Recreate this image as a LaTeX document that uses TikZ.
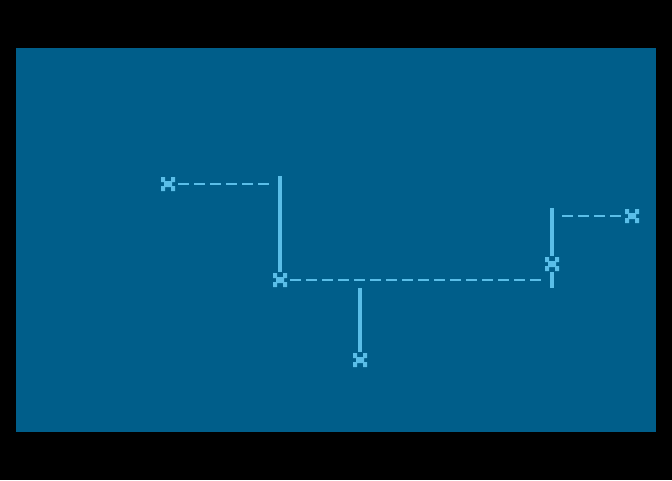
\documentclass[tikz,border=0pt]{standalone}
\usetikzlibrary{positioning}
\definecolor{panelblue}{RGB}{0,94,138}
\definecolor{lightcyan}{RGB}{90,190,232}

\begin{document}
\begin{tikzpicture}[x=1pt, y=-1pt]
\tikzset{
    xmark/.style= {rectangle, minimum size=16pt, inner sep=0pt, path picture={
        \fill[lightcyan, shift={(path picture bounding box.center)}]
        (-7,-7) -- (-3,-7) -- (-3,-3) -- (3,-3) -- (3,-7) -- (7,-7) -- (7,-2) -- (4,-2)
        -- (4,2) -- (7,2) -- (7,7) -- (3,7) -- (3,3) -- (-3,3) -- (-3,7) -- (-7,7)
        -- (-7,2) -- (-4,2) -- (-4,-2) -- (-7,-2) -- cycle;}},
    bar/.style= {lightcyan, line width=4pt},
    dashlink/.style= {lightcyan, line width=2pt, dash pattern=on 11pt off 5pt},
}

\fill[black] (0,0) rectangle (672,480);
\fill[panelblue] (16,48) rectangle (656,432);

\node[xmark] (A) at (168,184) {};
\node[xmark] (B) at (280,280) {};
\node[xmark] (C) at (360,360) {};
\node[xmark] (D) at (552,264) {};
\node[xmark] (E) at (632,216) {};

\coordinate (a1) at (270,184);
\coordinate (b0) at (280,176);
\coordinate (b1) at (542,280);
\coordinate (c0) at (360,288);
\coordinate (d0) at (552,208);
\coordinate (d1) at (552,288);
\coordinate (e0) at (562,216);

\draw
(A) edge[dashlink, shorten <=2pt] (a1)
(b0) edge[bar] (B.north)
(B) edge[dashlink, shorten <=2pt] (b1)
(c0) edge[bar] (C.north)
(d0) edge[bar] (D.north)
(D.south) edge[bar] (d1)
(e0) edge[dashlink] (E);
\end{tikzpicture}
\end{document}
